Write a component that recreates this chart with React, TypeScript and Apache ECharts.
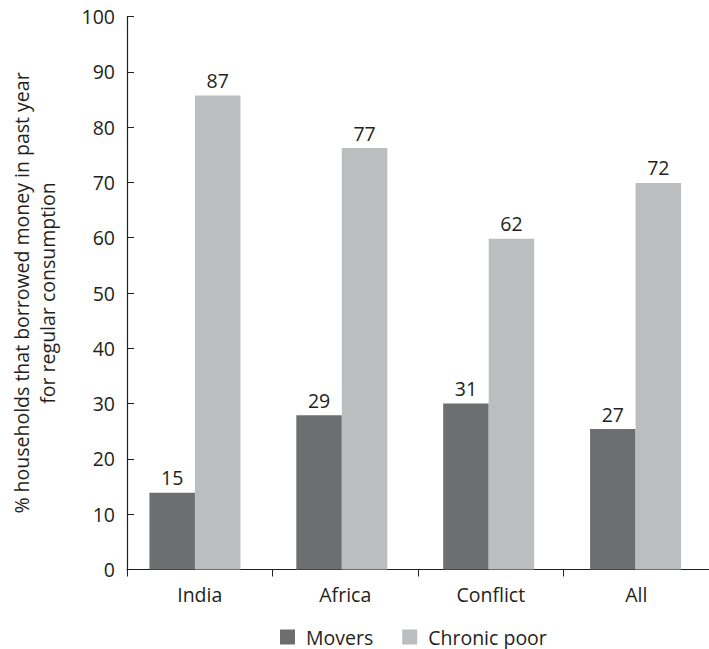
import React, { useEffect, useRef } from "react";
import * as echarts from "echarts";

const categories = ["India", "Africa", "Conflict", "All"];
const moversValues = [13.9, 27.9, 30.0, 25.4];
const chronicValues = [85.7, 76.2, 59.8, 69.9];
const moversLabels = ["15", "29", "31", "27"];
const chronicLabels = ["87", "77", "62", "72"];
const yTicks = [0, 10, 20, 30, 40, 50, 60, 70, 80, 90, 100];

const FONT = "Open Sans";
const TEXT = "#231f20";
const FS = 19.5;

export default function App() {
  const ref = useRef<HTMLDivElement>(null);
  useEffect(() => {
    if (!ref.current) return;
    const chart = echarts.init(ref.current, undefined, { renderer: "svg" });
    const gridTop = 16.5;
    const gridBottom = 79.5;
    chart.setOption({
      animation: false,
      textStyle: { fontFamily: FONT, color: TEXT },
      grid: [
        { left: 117, right: -6, top: gridTop, bottom: gridBottom, containLabel: false },
        { left: 121.5, right: -10.5, top: gridTop, bottom: gridBottom, containLabel: false },
      ],
      legend: {
        left: 275,
        top: 622,
        itemWidth: 15,
        itemHeight: 15,
        itemGap: 29,
        icon: "rect",
        textStyle: { fontFamily: FONT, fontSize: FS, color: TEXT, padding: [0, 0, 0, 6] },
        data: ["Movers", "Chronic poor"],
      },
      xAxis: [
        {
          type: "category",
          gridIndex: 0,
          data: categories,
          axisLine: { lineStyle: { color: TEXT, width: 1.2 } },
          axisTick: { show: true, length: 7, inside: false, lineStyle: { color: TEXT } },
          axisLabel: { fontFamily: FONT, fontSize: FS, color: TEXT, margin: 15 },
        },
        {
          type: "category",
          gridIndex: 1,
          data: categories,
          show: false,
        },
      ],
      yAxis: [
        {
          type: "value",
          gridIndex: 0,
          min: 0,
          max: 100,
          interval: 10,
          axisLine: { show: true, lineStyle: { color: TEXT, width: 1.2 } },
          axisTick: { show: true, inside: true, length: 7, lineStyle: { color: TEXT } },
          splitLine: { show: false },
          axisLabel: {
            fontFamily: FONT,
            fontSize: FS,
            color: TEXT,
            margin: 12,
            formatter: (v: number) => (yTicks.includes(v) ? String(v) : ""),
          },
          name: "% households that borrowed money in past year\nfor regular consumption",
          nameLocation: "middle",
          nameRotate: 90,
          nameGap: 67,
          nameTextStyle: { fontFamily: FONT, fontSize: FS, color: TEXT, lineHeight: 26 },
        },
        {
          type: "value",
          gridIndex: 1,
          min: 0,
          max: 100,
          show: false,
        },
      ],
      series: [
        {
          name: "Movers",
          type: "bar",
          xAxisIndex: 1,
          yAxisIndex: 1,
          data: moversValues,
          barWidth: 45.5,
          barGap: "0%",
          itemStyle: { color: "#6d6e70" },
          label: {
            show: true,
            position: "top",
            distance: 5,
            fontFamily: FONT,
            fontSize: FS,
            color: TEXT,
            formatter: (p: any) => moversLabels[p.dataIndex],
          },
        },
        {
          name: "Chronic poor",
          type: "bar",
          xAxisIndex: 1,
          yAxisIndex: 1,
          data: chronicValues,
          barWidth: 45.5,
          barGap: "0%",
          itemStyle: { color: "#bcbdbf" },
          label: {
            show: true,
            position: "top",
            distance: 5,
            fontFamily: FONT,
            fontSize: FS,
            color: TEXT,
            formatter: (p: any) => chronicLabels[p.dataIndex],
          },
        },
      ],
    });
    return () => chart.dispose();
  }, []);
  return (
    <div
      ref={ref}
      style={{ position: "absolute", left: 0, top: 0, width: 709, height: 649 }}
    />
  );
}
